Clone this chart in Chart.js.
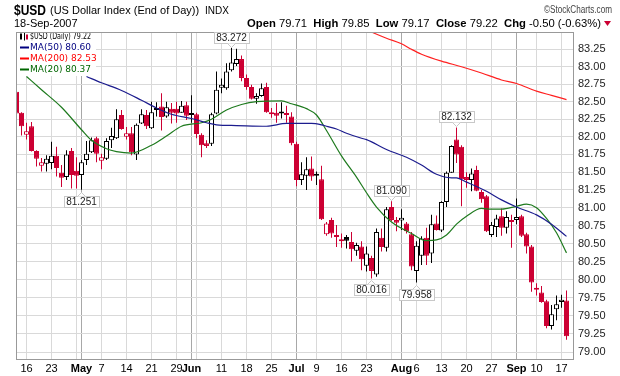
<!DOCTYPE html>
<html><head><meta charset="utf-8">
<script src="https://cdn.jsdelivr.net/npm/chart.js@4/dist/chart.umd.min.js"></script>
<style>html,body{margin:0;padding:0;background:#fff}</style>
</head><body>
<canvas id="c" width="620" height="376"></canvas>
<script>
// ---- DATA (trading days 12-Apr-2007 .. 18-Sep-2007, index 0..110) ----
const openP = [82.64,82.34,82.03,82.15,81.80,81.59,81.62,81.63,81.73,81.49,81.43,81.80,81.52,81.46,81.67,81.78,81.98,81.66,81.69,81.95,
81.98,82.31,82.00,82.05,81.75,82.19,82.31,82.12,82.41,82.43,82.29,82.40,82.40,82.34,82.45,82.32,82.32,82.03,81.91,81.90,
82.33,82.70,82.69,82.95,83.04,83.11,82.84,82.71,82.54,82.58,82.71,82.34,82.34,82.34,82.33,82.29,81.90,81.39,81.45,81.55,
81.46,81.40,80.63,80.83,80.61,80.55,80.59,80.52,80.40,80.46,80.19,80.30,80.07,80.58,80.44,81.01,80.83,80.82,80.78,80.63,
80.12,80.33,80.58,80.36,80.78,80.68,81.08,81.49,81.96,81.86,81.43,81.39,81.53,81.22,81.16,80.62,80.73,80.88,80.72,80.82,
80.83,80.88,80.63,80.46,79.87,79.82,79.70,79.36,79.59,79.69,79.71];
const highP = [82.68,82.35,82.20,82.21,81.81,81.70,81.74,81.93,81.86,81.60,81.81,81.84,81.71,81.67,81.94,81.99,82.00,81.76,81.98,82.13,
82.39,82.38,82.14,82.14,82.19,82.39,82.38,82.50,82.49,82.62,82.50,82.48,82.50,82.51,82.50,82.59,82.34,82.05,81.95,82.34,
82.93,82.83,83.05,83.272,83.26,83.16,82.89,82.74,82.62,82.76,82.77,82.41,82.48,82.49,82.44,82.35,81.93,81.64,81.71,81.72,
81.51,81.59,80.80,80.86,80.76,80.64,80.62,80.66,80.51,80.53,80.46,80.33,80.71,80.71,81.01,81.09,80.87,80.98,80.80,80.66,
80.53,80.60,80.72,80.90,80.89,81.09,81.51,81.88,82.132,81.88,81.50,81.55,81.59,81.25,81.18,80.80,80.90,80.99,80.95,80.90,
81.13,80.90,80.65,80.48,79.95,79.91,79.72,79.65,79.78,79.79,79.85];
const lowP = [82.31,82.02,81.96,81.79,81.58,81.51,81.51,81.54,81.44,81.29,81.39,81.27,81.27,81.251,81.60,81.77,81.64,81.54,81.67,81.84,
81.97,82.10,81.96,81.74,81.67,82.18,82.11,82.11,82.29,82.09,82.27,82.19,82.20,82.34,82.24,82.20,81.98,81.71,81.84,81.87,
82.32,82.62,82.67,82.93,83.01,82.79,82.67,82.53,82.47,82.57,82.34,82.27,82.20,82.26,82.20,81.88,81.30,81.32,81.25,81.38,
81.32,80.83,80.61,80.58,80.45,80.44,80.43,80.25,80.33,80.13,80.11,80.016,80.04,80.39,80.39,80.81,80.67,80.69,80.64,80.13,
79.958,80.20,80.20,80.23,80.68,80.66,81.01,81.49,81.63,81.02,81.28,81.23,81.23,81.07,80.66,80.59,80.59,80.61,80.64,80.44,
80.77,80.59,80.36,79.83,79.78,79.68,79.33,79.31,79.44,79.61,79.17];
const closeP = [82.33,82.15,82.08,81.80,81.69,81.64,81.69,81.73,81.56,81.42,81.75,81.46,81.45,81.64,81.76,81.95,81.76,81.71,81.94,82.01,
82.25,82.11,82.05,81.78,82.17,82.32,82.15,82.35,82.38,82.28,82.42,82.34,82.33,82.44,82.30,82.31,82.04,81.88,81.87,82.32,
82.67,82.74,82.93,83.06,83.11,82.84,82.71,82.54,82.58,82.69,82.35,82.32,82.30,82.33,82.31,81.91,81.39,81.47,81.54,81.44,
81.45,80.84,80.78,80.64,80.59,80.53,80.54,80.42,80.48,80.28,80.36,80.12,80.66,80.45,80.98,80.83,80.79,80.86,80.67,80.18,
80.47,80.57,80.33,80.77,80.69,81.08,81.49,81.87,81.75,81.40,81.39,81.48,81.24,81.12,80.67,80.76,80.85,80.72,80.87,80.80,
80.87,80.61,80.46,79.96,79.86,79.69,79.36,79.52,79.66,79.72,79.22];

// moving averages at selected days
const ma50Days = [14,17,21,25,28,31,35,38,40,44,50,54,59,61,62,64,66,69,70,74,78,81,84,87,88,90,94,97,100,104,107,110];
const ma50Vals = [82.86,82.77,82.66,82.52,82.41,82.32,82.26,82.20,82.17,82.16,82.15,82.19,82.19,82.17,82.15,82.11,82.05,81.98,81.96,81.82,81.71,81.60,81.47,81.42,81.42,81.36,81.23,81.11,81.01,80.90,80.77,80.60];
const ma200Days = [70,74,77,79,81,85,89,93,97,100,104,107,110];
const ma200Vals = [83.53,83.41,83.33,83.25,83.18,83.08,83.00,82.91,82.81,82.76,82.65,82.59,82.53];
const ma20Days = [2,5,9,13,15,18,20,23,27,30,33,37,39,42,45,48,53,55,58,60,62,65,68,70,72,75,79,82,84,86,88,90,93,95,97,100,102,104,106,108,110];
const ma20Vals = [82.86,82.67,82.42,82.10,81.95,81.83,81.79,81.77,81.88,82.01,82.15,82.20,82.25,82.38,82.46,82.50,82.51,82.47,82.40,82.31,82.09,81.73,81.43,81.21,81.01,80.80,80.64,80.54,80.55,80.62,80.77,80.88,80.99,80.98,80.98,81.02,81.05,81.00,80.85,80.65,80.37];

// axis ticks
const xTickDays   = [2,7,12,13,17,22,27,32,35,36,41,46,51,56,60,65,70,75,77,80,85,90,95,100,104,109];
const xTickLabels = ['16','23','','May','7','14','21','29','Jun','','11','18','25','Jul','9','16','23','','Aug','6','13','20','27','Sep','10','17'];
const monthDays   = [13,35,56,77,100];
const yTicks = [79.00,79.25,79.50,79.75,80.00,80.25,80.50,80.75,81.00,81.25,81.50,81.75,82.00,82.25,82.50,82.75,83.00,83.25];
const annotations = [{day:43,kind:'H'},{day:88,kind:'H'},{day:75,kind:'H'},{day:13,kind:'L'},{day:71,kind:'L'},{day:80,kind:'L'}];

// ---- styling ----
const RED = '#cc0033', BLK = '#000000';
const FONT = '"Liberation Sans", Arial, sans-serif';
const n = closeP.length;
const idx = closeP.map((_, i) => i);
const candleCol = idx.map(i => closeP[i] < (i === 0 ? openP[0] : closeP[i - 1]) ? RED : BLK);
const bodyFill = idx.map(i => closeP[i] < openP[i] ? candleCol[i] : '#ffffff');
const toXY = (d, v) => d.map((x, k) => ({x, y: v[k]}));

function fitText(ctx, txt, x, y, width) {
  const w0 = ctx.measureText(txt).width;
  ctx.save(); ctx.translate(x, y); ctx.scale(width / w0, 1); ctx.fillText(txt, 0, 0); ctx.restore();
}

const framePlugin = {
  id: 'frame',
  afterDatasetsDraw(chart) {
    const {ctx, chartArea: a} = chart;
    ctx.save();
    ctx.fillStyle = '#fff';
    ctx.fillRect(a.left + 1, a.top + 1, 79, 43);
    const rows = [
      {t: '$USD (Daily) ' + closeP[n - 1].toFixed(2), c: '#000', icon: true, w: 61},
      {t: 'MA(50) ' + ma50Vals[ma50Vals.length - 1].toFixed(2), c: '#000080'},
      {t: 'MA(200) ' + ma200Vals[ma200Vals.length - 1].toFixed(2), c: '#ff0000'},
      {t: 'MA(20) ' + ma20Vals[ma20Vals.length - 1].toFixed(2), c: '#006600'}
    ];
    ctx.font = '9px "DejaVu Sans", sans-serif';
    ctx.textBaseline = 'middle';
    rows.forEach((r, k) => {
      const y = a.top + 4.5 + k * 11;
      if (r.icon) {
        ctx.fillStyle = '#000';
        ctx.fillRect(20, y - 3, 2, 6); ctx.fillRect(24, y - 4, 1, 8);
        ctx.fillStyle = RED; ctx.fillRect(26, y - 2, 2, 5);
      } else {
        ctx.fillStyle = r.c; ctx.fillRect(20, y - 1, 9, 2);
      }
      ctx.fillStyle = r.c;
      if (r.w) fitText(ctx, r.t, 30, y + 0.5, r.w); else ctx.fillText(r.t, 30, y + 0.5);
    });
    ctx.strokeStyle = '#999';
    ctx.lineWidth = 1;
    ctx.strokeRect(a.left + 0.5, a.top + 0.5, a.right - a.left, a.bottom - a.top);
    ctx.restore();
  },
  afterDraw(chart) {
    const {ctx, scales: {x, y}} = chart;
    ctx.save();
    // high / low annotations
    ctx.font = '10px ' + FONT;
    ctx.textBaseline = 'middle';
    ctx.textAlign = 'center';
    annotations.forEach(an => {
      const v = an.kind === 'H' ? highP[an.day] : lowP[an.day];
      const txt = v.toFixed(3);
      const px = x.getPixelForValue(an.day), py = y.getPixelForValue(v);
      const w = Math.round(ctx.measureText(txt).width) + 4, h = 11;
      const bx = Math.round(px - w / 2) + 0.5;
      const by = an.kind === 'H' ? Math.round(py - 5 - h) + 0.5 : Math.round(py + 6) + 0.5;
      ctx.fillStyle = '#fff'; ctx.strokeStyle = '#c8c8c8';
      ctx.fillRect(bx, by, w, h); ctx.strokeRect(bx, by, w, h);
      ctx.beginPath();
      if (an.kind === 'H') { ctx.moveTo(px - 4, by + h); ctx.lineTo(px, by + h + 4); ctx.lineTo(px + 4, by + h); }
      else { ctx.moveTo(px - 4, by); ctx.lineTo(px, by - 4); ctx.lineTo(px + 4, by); }
      ctx.fill(); ctx.stroke();
      ctx.fillStyle = '#222';
      ctx.fillText(txt, px, by + h / 2 + 0.5);
    });
    // header
    ctx.textAlign = 'left'; ctx.textBaseline = 'alphabetic';
    ctx.fillStyle = '#000';
    ctx.font = 'bold 15px ' + FONT;
    fitText(ctx, '$USD', 14, 15, 32);
    ctx.font = '11px ' + FONT;
    ctx.fillText('(US Dollar Index (End of Day))', 50, 14);
    ctx.font = '10px ' + FONT;
    ctx.fillText('INDX', 205, 14);
    ctx.fillStyle = '#444';
    fitText(ctx, '\u00A9StockCharts.com', 544, 13, 68);
    ctx.fillStyle = '#000';
    ctx.font = '11px ' + FONT;
    ctx.fillText('18-Sep-2007', 14, 27);
    const last = n - 1, chg = closeP[last] - closeP[last - 1];
    const segs = [
      ['Open', 1], [' ' + openP[last].toFixed(2) + '  ', 0],
      ['High', 1], [' ' + highP[last].toFixed(2) + '  ', 0],
      ['Low', 1], [' ' + lowP[last].toFixed(2) + '  ', 0],
      ['Close', 1], [' ' + closeP[last].toFixed(2) + '  ', 0],
      ['Chg', 1], [' ' + chg.toFixed(2) + ' (' + (chg / closeP[last - 1] * 100).toFixed(2) + '%)', 0]
    ];
    const fB = 'bold 11px ' + FONT, fN = '11px ' + FONT;
    let tot = 0;
    segs.forEach(s => { ctx.font = s[1] ? fB : fN; tot += ctx.measureText(s[0]).width; });
    const startX = 247, endX = 601, k = (endX - startX) / tot;
    ctx.save(); ctx.translate(startX, 27); ctx.scale(k, 1);
    let cx = 0;
    segs.forEach(s => { ctx.font = s[1] ? fB : fN; ctx.fillText(s[0], cx, 0); cx += ctx.measureText(s[0]).width; });
    ctx.restore();
    ctx.fillStyle = RED;
    ctx.beginPath(); ctx.moveTo(604, 21); ctx.lineTo(611, 21); ctx.lineTo(607.5, 26); ctx.closePath(); ctx.fill();
    ctx.restore();
  }
};

new Chart(document.getElementById('c'), {
  type: 'bar',
  data: {
    datasets: [
      {type: 'line', label: 'MA(50)', data: toXY(ma50Days, ma50Vals), borderColor: '#1c1c8e', borderWidth: 1.2,
       pointRadius: 0, cubicInterpolationMode: 'monotone', order: 1},
      {type: 'line', label: 'MA(200)', data: toXY(ma200Days, ma200Vals), borderColor: '#ff2020', borderWidth: 1.2,
       pointRadius: 0, cubicInterpolationMode: 'monotone', order: 1},
      {type: 'line', label: 'MA(20)', data: toXY(ma20Days, ma20Vals), borderColor: '#1e7a1e', borderWidth: 1.2,
       pointRadius: 0, cubicInterpolationMode: 'monotone', order: 1},
      {type: 'bar', label: 'body', data: idx.map(i => ({x: i, y: [Math.min(openP[i], closeP[i]), Math.max(openP[i], closeP[i])]})),
       backgroundColor: bodyFill, borderColor: candleCol, borderWidth: 1, borderSkipped: false,
       barThickness: 5, grouped: false, inflateAmount: 0, minBarLength: 2, order: 2},
      {type: 'bar', label: 'wick', data: idx.map(i => ({x: i, y: [lowP[i], highP[i]]})),
       backgroundColor: candleCol, borderWidth: 0, barThickness: 1, grouped: false, inflateAmount: 0, order: 3}
    ]
  },
  options: {
    responsive: false, animation: false, devicePixelRatio: 1,
    layout: {padding: {left: 16, top: 32, right: 0, bottom: 0}},
    plugins: {legend: {display: false}, tooltip: {enabled: false}},
    scales: {
      x: {
        type: 'linear', min: -0.1, max: 111.3, offset: false,
        grid: {offset: false, drawTicks: false, color: c => (c.tick && monthDays.includes(c.tick.value)) ? '#a8a8a8' : '#d9d9d9'},
        border: {display: false},
        ticks: {
          autoSkip: false, maxRotation: 0, padding: 3, color: '#000',
          font: c => ({family: FONT, size: 11, weight: (c.tick && monthDays.includes(c.tick.value)) ? 'bold' : 'normal'}),
          callback: v => { const k = xTickDays.indexOf(v); return k >= 0 ? xTickLabels[k] : ''; }
        },
        afterBuildTicks: s => { s.ticks = xTickDays.map(v => ({value: v, major: monthDays.includes(v)})); },
        afterFit: s => { s.height = 17; }
      },
      y: {
        type: 'logarithmic', position: 'right', min: 78.908, max: 83.50, bounds: 'data',
        grid: {drawTicks: false, color: '#d9d9d9'},
        border: {display: false},
        ticks: {padding: 5, crossAlign: 'near', color: '#222', font: {family: FONT, size: 11},
                callback: v => Number(v).toFixed(2)},
        afterBuildTicks: s => { s.ticks = yTicks.map(v => ({value: v})); },
        afterFit: s => { s.width = 47; }
      }
    }
  },
  plugins: [framePlugin]
});
</script>
</body></html>
